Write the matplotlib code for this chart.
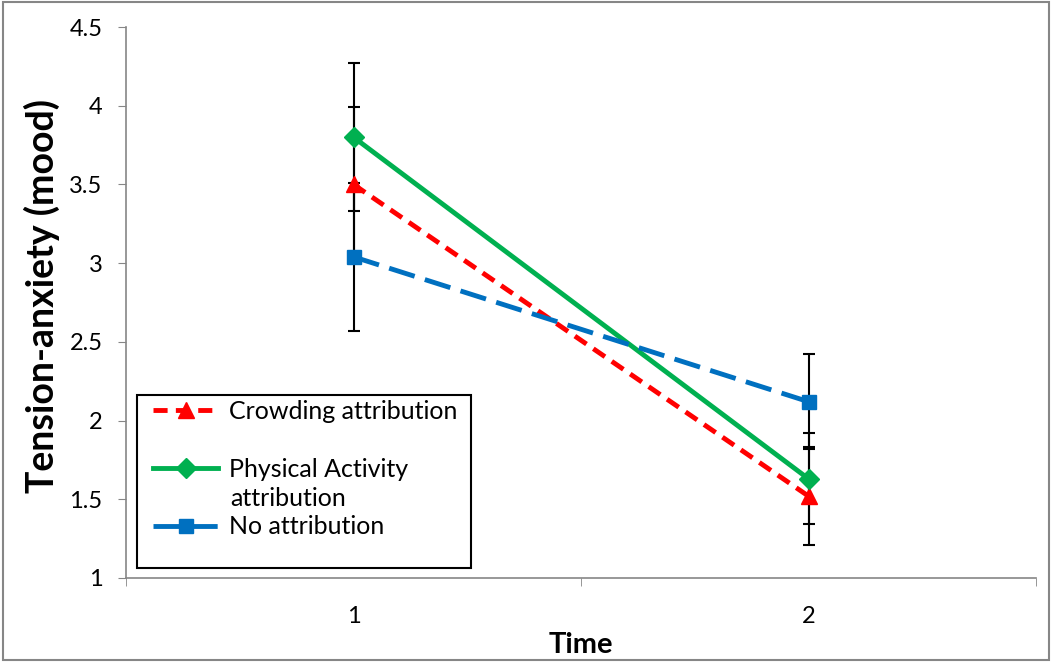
import numpy as np
import matplotlib.pyplot as plt
from matplotlib.patches import Rectangle

plt.rcParams['font.family'] = ['Lato', 'DejaVu Sans']

time = [1, 2]
labels = ['Crowding attribution', 'Physical Activity', 'No attribution']
crowding = [3.50, 1.52]
crowding_err = [0.49, 0.31]
physical = [3.80, 1.63]
physical_err = [0.47, 0.29]
none_attr = [3.04, 2.12]
none_err = [0.47, 0.30]

W, H = 1052, 662
fig = plt.figure(figsize=(W / 100, H / 100), dpi=100)
ax = fig.add_axes([126/W, 1-578/H, 910/W, 551/H])

# error bars first, black
for vals, errs in [(physical, physical_err), (crowding, crowding_err), (none_attr, none_err)]:
    ax.errorbar(time, vals, yerr=errs, fmt='none', ecolor='black', elinewidth=1.5,
                capsize=4.5, capthick=1.5, zorder=2)

l1, = ax.plot(time, crowding, color='#FF0000', ls=(0, (2.9, 1.7)), lw=3.5, marker='^',
              ms=11, label=labels[0], zorder=3)
l2, = ax.plot(time, physical, color='#00B050', ls='-', lw=3.5, marker='D',
              ms=10, label=labels[1], zorder=3)
l3, = ax.plot(time, none_attr, color='#0070C0', ls=(0, (5.5, 2.2)), lw=3.5, marker='s',
              ms=10, label=labels[2], zorder=3)

ax.set_xlim(0.5, 2.5)
ax.set_ylim(1, 4.5)
ax.set_yticks(np.arange(1, 4.51, 0.5))
ax.set_yticklabels(['1', '1.5', '2', '2.5', '3', '3.5', '4', '4.5'])
ax.set_xticks([1, 2])
ax.set_xticks([0.5, 1.5, 2.5], minor=True)
ax.tick_params(axis='x', which='major', length=0, labelsize=17, pad=20)
ax.tick_params(axis='x', which='minor', length=6, color='#868686')
ax.tick_params(axis='y', length=6, color='#868686', labelsize=17, pad=11)

for s in ['top', 'right']:
    ax.spines[s].set_visible(False)
for s in ['left', 'bottom']:
    ax.spines[s].set_color('#868686')
    ax.spines[s].set_linewidth(1.2)

ax.set_xlabel('Time', fontsize=21, fontweight='bold')
ax.xaxis.set_label_coords(0.5, -0.098)
ax.set_ylabel('Tension-anxiety (mood)', fontsize=27, fontweight='bold')
ax.yaxis.set_label_coords(-0.073, 0.512)

# legend frame drawn as a plain box, legend without its own frame on top
box = Rectangle((137/W, 1-568/H), 334/W, 173/H, transform=fig.transFigure, clip_on=False,
                facecolor='white', edgecolor='black', lw=1.5, zorder=4)
ax.add_patch(box)

leg = ax.legend(handles=[l1, l2, l3], loc='upper left', bbox_to_anchor=(153/W, 1-400/H),
                bbox_transform=fig.transFigure, borderaxespad=0, borderpad=0, fontsize=18,
                frameon=False, handlelength=2.6, labelspacing=1.39, handletextpad=0.45)
leg.set_zorder(5)
# second line of the wrapped "Physical Activity attribution" label
ax.text(230/W, 1-498/H, 'attribution', fontsize=18, va='center', ha='left',
        transform=fig.transFigure, zorder=6)

# outer chart border
fig.patches.append(Rectangle((0.003, 0.003), 0.994, 0.994, transform=fig.transFigure,
                             fill=False, edgecolor='#868686', lw=1.5))

fig.savefig('out.png', dpi=100)
